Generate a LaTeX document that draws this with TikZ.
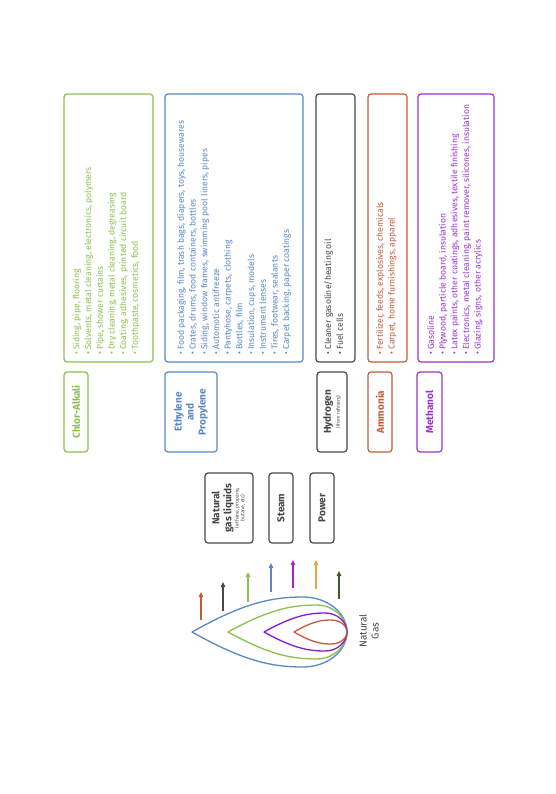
\documentclass[tikz,border=0pt]{standalone}
\usepackage{fontspec}
\setmainfont{Fira Sans}
\usetikzlibrary{arrows.meta}
\definecolor{cgreen}{HTML}{8CBF4E}
\definecolor{cblue}{HTML}{5A88C2}
\definecolor{cgray}{HTML}{474747}
\definecolor{cred}{HTML}{C25C3E}
\definecolor{cpurple}{HTML}{9A35CC}
\definecolor{carrpurple}{HTML}{A91FC4}
\definecolor{corange}{HTML}{E9A545}
\definecolor{cdkgreen}{HTML}{3E5C22}
\newcommand\teardrop[4]{% #1 colour, #2 tip x, #3 top x, #4 half height
  \draw[drop,#1] (#2,632)
    .. controls ({#2+0.45*(#3-#2)},{632-0.8*#4}) and ({#3-0.3*(#3-#2)},{632-#4}) .. (#3,{632-#4})
    .. controls ({#3+0.55*(347-#3)},{632-#4}) and (347,{632-0.55*#4}) .. (347,632)
    .. controls (347,{632+0.55*#4}) and ({#3+0.55*(347-#3)},{632+#4}) .. (#3,{632+#4})
    .. controls ({#3-0.3*(#3-#2)},{632+#4}) and ({#2+0.45*(#3-#2)},{632+0.8*#4}) .. cycle;}
\tikzset{
  listbox/.style={draw=#1, line width=1.2pt, rounded corners=3pt, inner sep=0pt},
  titlebox/.style={draw=#1, text=#1, line width=1.2pt, rounded corners=3pt, rotate=90,
    align=center, inner sep=0pt, font=\fontsize{10}{12}\selectfont\bfseries},
  listtext/.style={text=#1, rotate=90, anchor=north west, align=left, inner sep=0pt,
    font=\fontsize{8.6}{11.7}\selectfont},
  drop/.style={line width=1.3pt, line join=round},
  arr/.style={line width=1.4pt, -{Triangle[length=5pt,width=4.5pt]}}
}
\begin{document}
\begin{tikzpicture}[x=1pt,y=-1pt]
\fill[white] (0,0) rectangle (556,794);
\useasboundingbox (0,0) rectangle (556,794);

% list boxes
\node[listbox=cgreen, minimum width=89pt, minimum height=268pt] (cabox) at (108.5,228) {};
\node[listbox=cblue, minimum width=138pt, minimum height=268pt] (epbox) at (234,228) {};
\node[listbox=cgray, minimum width=39pt, minimum height=268pt] (hbox) at (335.5,228) {};
\node[listbox=cred, minimum width=39pt, minimum height=268pt] (nhbox) at (387.5,228) {};
\node[listbox=cpurple, minimum width=76pt, minimum height=268pt] (mebox) at (456,228) {};

% list texts
\node[listtext=cgreen] (calist) at (72.5,355) {• Siding, pipe, flooring\\
• Solvents, metal cleaning, electronics, polymers\\
• Pipe, shower curtains\\
• Dry cleaning, metal cleaning, degreasing\\
• Coating, adhesives, printed circuit board\\
• Toothpaste, cosmetics, food};
\node[listtext=cblue] (eplist) at (177,355) {• Food packaging, film, trash bags, diapers, toys, housewares\\
• Crates, drums, food containers, bottles\\
• Siding, window frames, swimming pool liners, pipes\\
• Automotic antifreeze\\
• Pantyhose, carpets, clothing\\
• Bottles, film\\
• Insulation, cups, models\\
• Instrument lenses\\
• Tires, footwear, sealants\\
• Carpet backing, paper coatings};
\node[listtext=cgray] (hlist) at (324,355) {• Cleaner gasoline/heating oil\\
• Fuel cells};
\node[listtext=cred] (nhlist) at (376,355) {• Fertilizer, feeds, explosives, chemicals\\
• Carpet, home furnishings, apparel};
\node[listtext=cpurple] (melist) at (427,355) {• Gasoline\\
• Plywood, particle board, insulation\\
• Latex paints, other coatings, adhesives, textile finishing\\
• Electronics, metal cleaning, paint remover, silicones, insulation\\
• Glazing, signs, other acrylics};

% title boxes
\node[titlebox=cgreen, minimum width=80pt, minimum height=24pt] (catitle) at (76,412) {Chlor-Alkali};
\node[titlebox=cblue, minimum width=80pt, minimum height=52pt] (eptitle) at (191,412) {Ethylene\\and\\Propylene};
\node[titlebox=cgray, minimum width=80pt, minimum height=30pt] (htitle) at (332,412) {Hydrogen\\[-3pt]{\fontsize{5}{6}\selectfont\mdseries (from refinery)}};
\node[titlebox=cred, minimum width=80pt, minimum height=24pt] (nhtitle) at (380,412) {Ammonia};
\node[titlebox=cpurple, minimum width=80pt, minimum height=25pt] (metitle) at (429.5,412) {Methanol};

\node[titlebox=cgray, minimum width=70pt, minimum height=48pt] (ngl) at (229,508) {Natural\\gas liquids\\[-2pt]{\fontsize{5}{5.5}\selectfont\mdseries\begin{tabular}{@{}c@{}}(ethane, propane,\\butane, etc)\end{tabular}}};
\node[titlebox=cgray, minimum width=70pt, minimum height=24pt] (steam) at (281,508) {Steam};
\node[titlebox=cgray, minimum width=70pt, minimum height=24pt] (power) at (322,508) {Power};

% arrows
\coordinate (r1) at (201,620); \coordinate (r2) at (201,592);
\coordinate (k1) at (223,611); \coordinate (k2) at (223,582);
\coordinate (g1) at (248,602); \coordinate (g2) at (248,572);
\coordinate (b1) at (271,592); \coordinate (b2) at (271,563);
\coordinate (p1) at (293,588); \coordinate (p2) at (293,560);
\coordinate (o1) at (316,589); \coordinate (o2) at (316,560);
\coordinate (d1) at (339,599); \coordinate (d2) at (339,571);
\draw[arr,cred] (r1) -- (r2);
\draw[arr,cgray] (k1) -- (k2);
\draw[arr,cgreen] (g1) -- (g2);
\draw[arr,cblue] (b1) -- (b2);
\draw[arr,carrpurple] (p1) -- (p2);
\draw[arr,corange] (o1) -- (o2);
\draw[arr,cdkgreen] (d1) -- (d2);

% teardrops
\teardrop{cblue}{192}{303}{35}
\teardrop{cgreen}{228}{316}{27}
\teardrop{carrpurple!80!blue}{264}{325}{19}
\teardrop{cred}{294}{331}{12}

\node[text=cgray, rotate=90, align=center, inner sep=0pt, font=\fontsize{10}{12}\selectfont] (ng) at (369,631) {Natural\\Gas};
\end{tikzpicture}
\end{document}
